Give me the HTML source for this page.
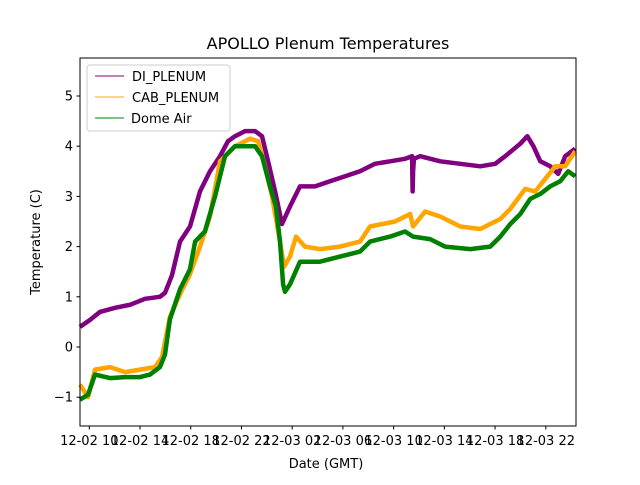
<!DOCTYPE html>
<html><head><meta charset="utf-8"><style>
body{margin:0;background:#fff;}
svg text{font-family:"DejaVu Sans","Liberation Sans",sans-serif;fill:#000;}
</style></head><body>
<svg id="chart" width="640" height="480" xmlns="http://www.w3.org/2000/svg">
<rect width="640" height="480" fill="#fff"/>
<text x="328" y="49" font-size="16" text-anchor="middle">APOLLO Plenum Temperatures</text>
<g id="plot"></g>
<rect x="80" y="58" width="496" height="368" fill="none" stroke="#000" stroke-width="1"/>
<g id="axes"></g>
<text x="326" y="468" font-size="13" text-anchor="middle">Date (GMT)</text>
<text transform="translate(40,242) rotate(-90)" font-size="13" text-anchor="middle">Temperature (C)</text>
<g>
<rect x="87" y="65" width="143" height="66" rx="3" fill="#fff" fill-opacity="0.8" stroke="#ccc"/>
<line x1="95" y1="76" x2="124" y2="76" stroke="purple" stroke-width="1"/>
<text x="132" y="81" font-size="13">DI_PLENUM</text>
<line x1="95" y1="97" x2="124" y2="97" stroke="orange" stroke-width="1"/>
<text x="132" y="102" font-size="13">CAB_PLENUM</text>
<line x1="95" y1="118" x2="124" y2="118" stroke="green" stroke-width="1"/>
<text x="131" y="123" font-size="13">Dome Air</text>
</g>
</svg>
<script>
// hours since 12-02 00:00 GMT
const diHours=[9.27,10.06,10.84,12.03,13.21,14.39,15.57,15.97,16.52,17.15,17.94,18.73,19.52,20.31,20.94,21.49,22.28,23.07,23.62,24.1,24.65,25.2,25.83,26.62,27.8,28.98,30.17,31.35,32.53,33.72,34.9,35.46,35.5,35.54,35.6,36.09,37.67,39.25,40.83,42.01,42.8,43.99,44.54,45.02,45.57,46.35,46.98,47.53,48.32];
const diValues=[0.4,0.54,0.7,0.78,0.84,0.96,1.0,1.08,1.43,2.1,2.4,3.1,3.5,3.8,4.1,4.2,4.3,4.3,4.2,3.7,3.1,2.45,2.8,3.2,3.2,3.3,3.4,3.5,3.65,3.7,3.75,3.8,3.1,3.5,3.75,3.8,3.7,3.65,3.6,3.65,3.8,4.05,4.2,4.0,3.7,3.6,3.45,3.8,3.95];
const cabHours=[9.27,9.9,10.45,11.63,12.82,14.0,15.18,15.73,16.36,17.15,17.94,18.73,19.52,20.31,21.49,22.67,23.31,23.86,24.41,25.04,25.36,25.83,26.3,27.01,28.19,29.77,31.35,32.14,34.11,35.3,35.54,36.48,37.67,39.25,40.83,42.41,43.2,44.38,45.17,45.96,46.75,47.53,48.32];
const cabValues=[-0.75,-1.0,-0.45,-0.4,-0.5,-0.45,-0.4,-0.2,0.6,1.05,1.45,2.0,2.6,3.7,4.0,4.15,4.1,3.6,3.0,2.1,1.6,1.8,2.2,2.0,1.95,2.0,2.1,2.4,2.5,2.65,2.4,2.7,2.6,2.4,2.35,2.55,2.75,3.15,3.1,3.35,3.6,3.6,3.9];
const domeHours=[9.27,9.9,10.45,11.63,12.82,14.0,14.79,15.57,15.97,16.36,17.15,17.94,18.34,19.12,19.91,20.7,21.49,22.28,23.07,23.62,24.25,24.72,25.04,25.28,25.43,25.83,26.62,28.19,29.77,31.35,32.14,33.72,34.9,35.54,36.88,38.06,40.04,41.62,42.41,43.2,43.99,44.78,45.57,46.35,47.14,47.77,48.32];
const domeValues=[-1.05,-0.95,-0.55,-0.62,-0.6,-0.6,-0.55,-0.4,-0.15,0.55,1.15,1.55,2.1,2.3,3.0,3.8,4.0,4.0,4.0,3.8,3.2,2.8,2.1,1.25,1.1,1.25,1.7,1.7,1.8,1.9,2.1,2.2,2.3,2.2,2.15,2.0,1.95,2.0,2.2,2.45,2.65,2.95,3.05,3.2,3.3,3.5,3.4];
const yTicks=[-1,0,1,2,3,4,5];
const xTickHours=[10,14,18,22,26,30,34,38,42,46];
const xTickLabels=["12-02 10","12-02 14","12-02 18","12-02 22","12-03 02","12-03 06","12-03 10","12-03 14","12-03 18","12-03 22"];

const NS="http://www.w3.org/2000/svg";
function xs(h){return 89.3+(h-10)*12.68;}
function ys(v){return 347-v*50.2;}
const plot=document.getElementById('plot');
const axes=document.getElementById('axes');
function drawSeries(hours,vals,color,name){
  let d='';
  for(let i=0;i<hours.length;i++){d+=(i?'L':'M')+xs(hours[i]).toFixed(1)+' '+ys(vals[i]).toFixed(1);}
  const p=document.createElementNS(NS,'path');
  p.setAttribute('d',d);p.setAttribute('fill','none');p.setAttribute('stroke',color);
  p.setAttribute('stroke-width','4.5');p.setAttribute('stroke-linejoin','round');
  
  
  plot.appendChild(p);
}
drawSeries(diHours,diValues,'purple','di-plenum-line');
drawSeries(cabHours,cabValues,'orange','cab-plenum-line');
drawSeries(domeHours,domeValues,'green','dome-air-line');
yTicks.forEach(v=>{
  const y=ys(v);
  const l=document.createElementNS(NS,'line');
  l.setAttribute('x1',76.5);l.setAttribute('x2',80);l.setAttribute('y1',y);l.setAttribute('y2',y);l.setAttribute('stroke','#000');
  
  
  axes.appendChild(l);
  const t=document.createElementNS(NS,'text');
  t.setAttribute('x',73);t.setAttribute('y',y+4.5);t.setAttribute('font-size','13');t.setAttribute('text-anchor','end');
  t.textContent=v<0?'\u2212'+Math.abs(v):String(v);
  
  
  axes.appendChild(t);
});
xTickHours.forEach((h,i)=>{
  const x=xs(h);
  const l=document.createElementNS(NS,'line');
  l.setAttribute('x1',x);l.setAttribute('x2',x);l.setAttribute('y1',426);l.setAttribute('y2',429.5);l.setAttribute('stroke','#000');
  
  
  axes.appendChild(l);
  const t=document.createElementNS(NS,'text');
  t.setAttribute('x',x);t.setAttribute('y',445);t.setAttribute('font-size','13');t.setAttribute('text-anchor','middle');
  t.textContent=xTickLabels[i];
  
  
  axes.appendChild(t);
});
</script>
</body></html>
